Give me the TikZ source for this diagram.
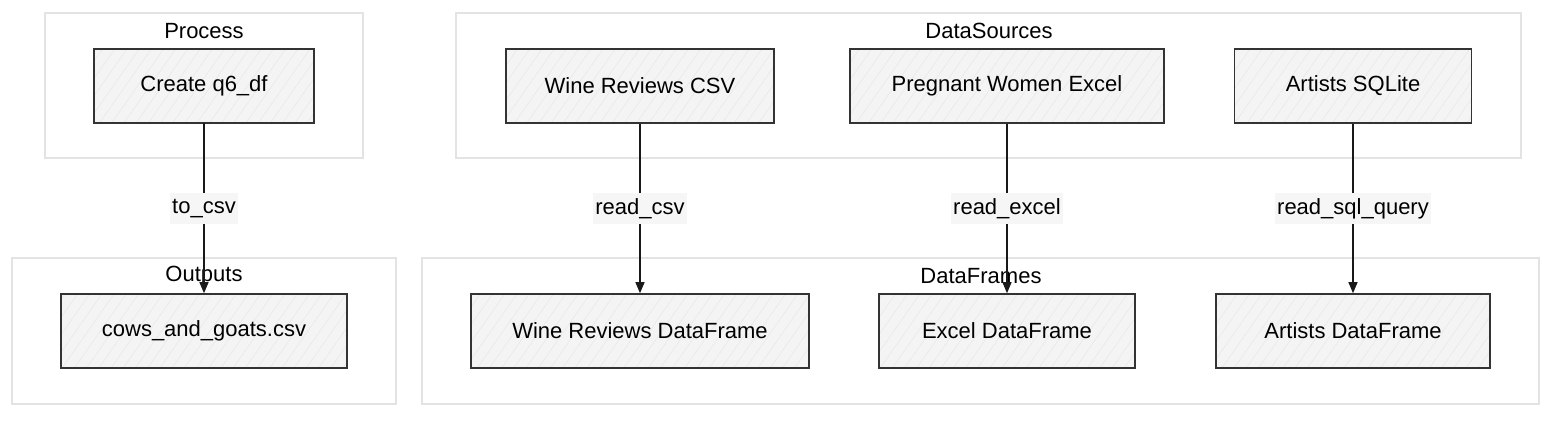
\documentclass[tikz,border=0pt]{standalone}
\usepackage{fontspec}
\setmainfont{Liberation Sans}
\usepackage{tikz}
\usetikzlibrary{arrows.meta,patterns.meta}

\definecolor{boxfill}{HTML}{F4F4F4}
\definecolor{boxline}{HTML}{333333}
\definecolor{groupline}{HTML}{E3E3E3}
\definecolor{labelfill}{HTML}{F6F6F6}

\tikzset{
  sketchbox/.style={draw=boxline, line width=1.6pt, preaction={fill=boxfill},
    pattern={Lines[angle=55,distance=10pt,line width=0.4pt]}, pattern color=black!10,
    minimum height=74pt, font=\fontsize{22}{26}\selectfont},
  group/.style={draw=groupline, line width=1.6pt},
  grouplabel/.style={font=\fontsize{22}{26}\selectfont},
  edgelabel/.style={fill=labelfill, inner xsep=2pt, minimum height=31pt, font=\fontsize{22}{26}\selectfont},
  flow/.style={-{Triangle[length=11pt,width=9pt]}, line width=1.2pt, draw=black!90}
}

\begin{document}
\begin{tikzpicture}[x=1pt,y=-1pt]
\path[use as bounding box,fill=white] (0,0) rectangle (1568,422);

% groups
\draw[group] (45,13) rectangle (363,158);
\draw[group] (12,258) rectangle (396,404);
\draw[group] (456,13) rectangle (1521,158);
\draw[group] (422,258) rectangle (1539,404);

\node[grouplabel] (process) at (204,31) {Process};
\node[grouplabel] (outputs) at (204,276) {Outputs};
\node[grouplabel] (sources) at (989,31) {DataSources};
\node[grouplabel] (frames) at (981,276) {DataFrames};

% boxes
\node[sketchbox,minimum width=220pt] (create) at (204,86) {Create q6\_df};
\node[sketchbox,minimum width=286pt] (cows) at (204,331) {cows\_and\_goats.csv};
\node[sketchbox,minimum width=268pt] (winecsv) at (640,86) {Wine Reviews CSV};
\node[sketchbox,minimum width=314pt] (excel) at (1007,86) {Pregnant Women Excel};
\node[sketchbox,minimum width=237pt] (sqlite) at (1353,86) {Artists SQLite};
\node[sketchbox,minimum width=338pt] (winedf) at (640,331) {Wine Reviews DataFrame};
\node[sketchbox,minimum width=256pt] (exceldf) at (1007,331) {Excel DataFrame};
\node[sketchbox,minimum width=274pt] (artistsdf) at (1353,331) {Artists DataFrame};

% reads and writes
\foreach \from/\to/\how in {create/cows/to\_csv, winecsv/winedf/read\_csv, excel/exceldf/read\_excel, sqlite/artistsdf/read\_sql\_query}{
    \draw[flow] (\from) -- node[edgelabel] {\how} (\to);
}
\end{tikzpicture}
\end{document}
